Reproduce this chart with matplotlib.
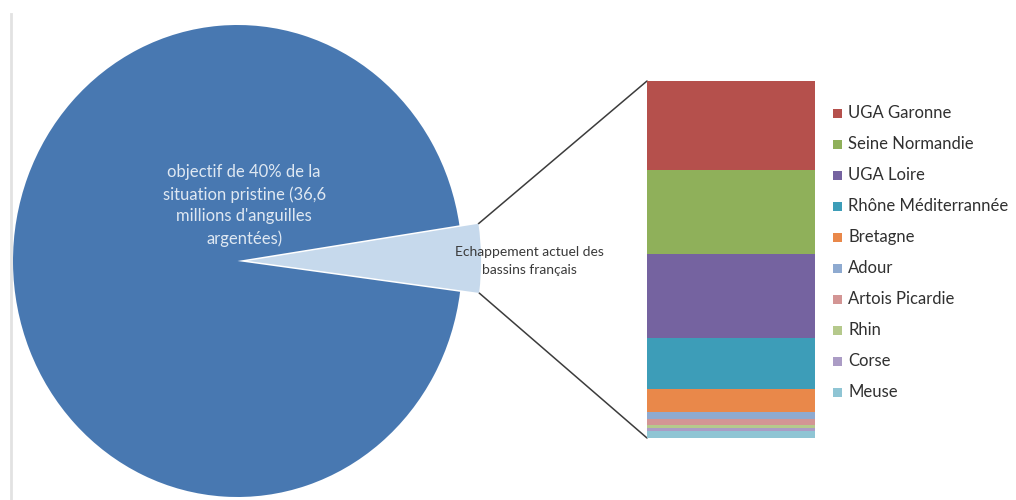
import matplotlib
matplotlib.use("Agg")
import matplotlib.pyplot as plt
from matplotlib.patches import ConnectionPatch, Rectangle
import numpy as np

plt.rcParams['font.family'] = ['Lato', 'DejaVu Sans']

# ---- data ----
pie_labels = ["objectif de 40% de la\nsituation pristine (36,6\nmillions d'anguilles\nargentées)",
              "Echappement actuel des\nbassins français"]
pie_values = [4.5, 95.5]   # [current escapement, rest of target]
pie_colors = ["#c6d9ec", "#4878b1"]

bar_categories = ["UGA Garonne", "Seine Normandie", "UGA Loire", "Rhône Méditerrannée",
                  "Bretagne", "Adour", "Artois Picardie", "Rhin", "Corse", "Meuse"]
bar_values = [88, 84, 83, 50, 23, 7, 6, 3, 3, 7]
bar_colors = ["#b5504c", "#8fb05a", "#7563a0", "#3d9db8", "#e9884a",
              "#8eaad0", "#d39594", "#b5c98c", "#ab9cc5", "#8fc5d4"]

W, H = 1016, 500
fig = plt.figure(figsize=(W / 100, H / 100), dpi=100)
fig.patch.set_facecolor("white")

def px_axes(x0, y0, x1, y1, z=0):
    """axes from pixel box (top-left origin)"""
    a = fig.add_axes([x0 / W, (H - y1) / H, (x1 - x0) / W, (y1 - y0) / H])
    a.set_zorder(z)
    return a

# ---- pie ----
axp = px_axes(13, 25, 462, 497, z=1)
wedges, _ = axp.pie(pie_values, colors=pie_colors, startangle=-7.5,
                    explode=[0.045, 0], radius=1, frame=True,
                    wedgeprops=dict(linewidth=0))
axp.set_xlim(-1, 1)
axp.set_ylim(-1, 1)
axp.set_aspect("auto")
axp.axis("off")
small = wedges[0]
small.set_radius(1.04)
for w in wedges:
    w.set_clip_on(False)

axp.text(0.03, 0.235, pie_labels[0], ha="center", va="center",
         fontsize=12, color="#dfe8f2", linespacing=1.45)

# ---- stacked bar ----
axb = px_axes(647, 81, 815, 438, z=1)
total = sum(bar_values)
bottom = 0
for cat, val, col in zip(bar_categories[::-1], bar_values[::-1], bar_colors[::-1]):
    axb.bar(0, val, bottom=bottom, width=1.0, color=col, edgecolor="none")
    bottom += val
axb.set_xlim(-0.5, 0.5)
axb.set_ylim(0, total)
axb.axis("off")

# overlay for decorations/legend in pixel coords (on top)
ov = fig.add_axes([0, 0, 1, 1])
ov.set_zorder(5)
ov.patch.set_alpha(0)
ov.set_xlim(0, W)
ov.set_ylim(H, 0)
ov.axis("off")
ov.plot([11, 11], [14, H], color="#e2e2e2", lw=2)

# text on the small slice
ov.text(529, 261, pie_labels[1], ha="center", va="center",
        fontsize=10, color="#3a3a3a", linespacing=1.55)

# ---- connector lines ----
cx, cy = small.center
r = small.r
t1, t2 = np.radians(small.theta1), np.radians(small.theta2)
top_corner = (cx + r * np.cos(t2), cy + r * np.sin(t2))
bot_corner = (cx + r * np.cos(t1), cy + r * np.sin(t1))
for xyA, xyB in [(top_corner, (-0.5, total)), (bot_corner, (-0.5, 0))]:
    con = ConnectionPatch(xyA=xyA, coordsA=axp.transData,
                          xyB=xyB, coordsB=axb.transData,
                          color="#3c3c3c", lw=1.1)
    fig.add_artist(con)

# ---- legend ----
for i, (cat, col) in enumerate(zip(bar_categories, bar_colors)):
    y = 113 + 31 * i
    ov.add_patch(Rectangle((833, y - 4.5), 9, 9, color=col, lw=0))
    ov.text(848, y, cat, ha="left", va="center", fontsize=12, color="#303030")

fig.savefig("out.png", dpi=100, facecolor="white")
